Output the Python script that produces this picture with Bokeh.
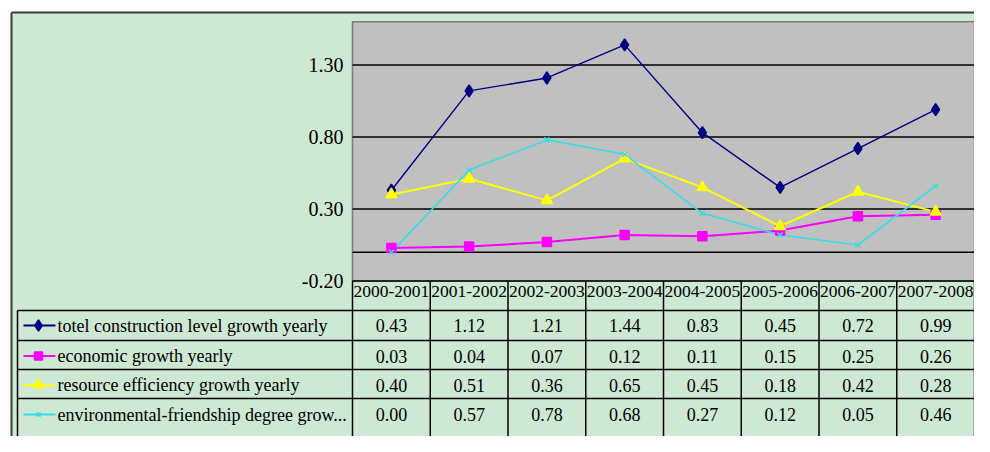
from bokeh.plotting import figure
from bokeh.models import ColumnDataSource, LinearAxis, FixedTicker, PrintfTickFormatter, Range1d
from bokeh.core.properties import value
from bokeh.embed import file_html
from bokeh.resources import INLINE

# ---------------- data ----------------
periods = ["2000-2001", "2001-2002", "2002-2003", "2003-2004",
           "2004-2005", "2005-2006", "2006-2007", "2007-2008"]
series_labels = ["totel construction level growth yearly",
                 "economic growth yearly",
                 "resource efficiency growth yearly",
                 "environmental-friendship degree grow..."]
total_construction = [0.43, 1.12, 1.21, 1.44, 0.83, 0.45, 0.72, 0.99]
economic_growth = [0.03, 0.04, 0.07, 0.12, 0.11, 0.15, 0.25, 0.26]
resource_efficiency = [0.40, 0.51, 0.36, 0.65, 0.45, 0.18, 0.42, 0.28]
environmental_friendship = [0.00, 0.57, 0.78, 0.68, 0.27, 0.12, 0.05, 0.46]
y_tick_values = [-0.2, 0.3, 0.8, 1.3]
y_axis_min, y_axis_max = -0.2, 1.6

series_values = [total_construction, economic_growth, resource_efficiency, environmental_friendship]

# ---------------- styles ----------------
colors = ["#000080", "#FF00FF", "#FFFF00", "#38DCE4"]
markers = ["diamond", "square", "triangle", "x"]
marker_sizes = [12, 9, 11, 7]
line_widths = [1.4, 2.0, 2.0, 1.6]
GREEN = "#CDE8D3"
GRAY = "#C0C0C0"
FONT = "Liberation Serif"

# ---------------- geometry (canvas pixels) ----------------
W, H = 974, 436
PLOT_LEFT = 352.0     # canvas x of plot area's left edge
CAT_PX = (W - PLOT_LEFT) / 8   # width of one category column
UNIT_PX = 144.0       # pixels per 1.0 of value
PLOT_BOTTOM = 280.5   # canvas y of y_axis_min

def dx(px):
    return -0.5 + (px - PLOT_LEFT) / CAT_PX

def dy(py):
    return y_axis_min + (PLOT_BOTTOM - py) / UNIT_PX

n = len(periods)
idx = list(range(n))
x_lo, x_hi = -0.5, n - 0.5

row_tops_px = [310, 340, 369, 398]
row_text_px = [325, 355.5, 384.5, 414]
LEG_LEFT_PX, LEG_L0, LEG_L1, LEG_M, LEG_TXT = 17, 23, 55, 38, 57
FRAME_X, FRAME_Y = 11, 12

p = figure(width=W, height=H, x_range=Range1d(dx(0), dx(W)), y_range=Range1d(dy(H), dy(0)),
           output_backend="svg", toolbar_location=None, min_border=0,
           x_axis_location=None, y_axis_location=None,
           background_fill_color="white", border_fill_color="white", outline_line_color=None)
p.grid.visible = False

# background panel and frame
p.quad(left=dx(FRAME_X), right=dx(W), bottom=dy(H), top=dy(FRAME_Y), fill_color=GREEN, line_color=None)
p.segment(x0=[dx(FRAME_X), dx(FRAME_X)], x1=[dx(FRAME_X), dx(W)],
          y0=[dy(FRAME_Y), dy(FRAME_Y)], y1=[dy(H), dy(FRAME_Y)],
          line_color="#3c3c3c", line_width=2)

# plot area
p.quad(left=x_lo, right=x_hi, bottom=y_axis_min, top=y_axis_max,
       fill_color=GRAY, line_color="#7a7a7a", line_width=1.5)
grid_vals = [v for v in y_tick_values if v > y_axis_min] + [0.0]
p.segment(x0=[x_lo] * len(grid_vals), x1=[x_hi] * len(grid_vals), y0=grid_vals, y1=grid_vals,
          line_color="black", line_width=1.6)

# series
for vals, c, lw in zip(series_values, colors, line_widths):
    p.line(idx, vals, line_color=c, line_width=lw)
for vals, c, m, s in zip(series_values, colors, markers, marker_sizes):
    p.scatter(idx, vals, marker=m, size=s, fill_color=c, line_color=c, line_width=1.5)

# data table lines
tbl_bottom = dy(H)
p.segment(x0=[x_lo], x1=[x_hi], y0=[y_axis_min], y1=[y_axis_min], line_color="black", line_width=1.5)
ht = [dy(v) for v in row_tops_px]
p.segment(x0=[dx(LEG_LEFT_PX)] * len(ht), x1=[x_hi] * len(ht), y0=ht, y1=ht,
          line_color="black", line_width=1.5)
bounds = [i - 0.5 for i in range(n + 1)]
p.segment(x0=bounds, x1=bounds, y0=[y_axis_min] * len(bounds), y1=[tbl_bottom] * len(bounds),
          line_color="black", line_width=1.5)
p.segment(x0=[dx(LEG_LEFT_PX)], x1=[dx(LEG_LEFT_PX)], y0=[ht[0]], y1=[tbl_bottom],
          line_color="black", line_width=1.5)

# legend keys in table
ry = [dy(v) for v in row_text_px]
p.segment(x0=[dx(LEG_L0)] * 4, x1=[dx(LEG_L1)] * 4, y0=ry, y1=ry, line_color=colors, line_width=2)
p.scatter(x=[dx(LEG_M)] * 4, y=ry, marker=markers, size=[s - 1 for s in marker_sizes],
          fill_color=colors, line_color=colors, line_width=1.5)
p.text(x=[dx(LEG_TXT)] * 4, y=ry, text=series_labels, text_font=value(FONT), text_font_size="18px",
       text_align="left", text_baseline="middle", text_color="black")

# table values
for vals, yv in zip(series_values, ry):
    src = ColumnDataSource(dict(x=idx, y=[yv] * n, t=["%.2f" % v for v in vals]))
    p.text(x="x", y="y", text="t", source=src, text_font=value(FONT), text_font_size="18px",
           text_align="center", text_baseline="middle", text_color="black")

# y axis at the plot area's left edge
yaxis = LinearAxis(ticker=FixedTicker(ticks=y_tick_values), formatter=PrintfTickFormatter(format="%.2f"))
yaxis.fixed_location = x_lo
yaxis.axis_line_color = None
yaxis.major_tick_in = 0
yaxis.major_tick_out = 0
yaxis.minor_tick_in = 0
yaxis.minor_tick_out = 0
yaxis.major_label_standoff = 9
yaxis.major_label_text_font = FONT
yaxis.major_label_text_font_size = "20px"
yaxis.major_label_text_color = "black"
p.add_layout(yaxis, "left")

# category axis forming the header row of the data table
xaxis = LinearAxis(ticker=FixedTicker(ticks=idx),
                   major_label_overrides={i: periods[i] for i in idx})
xaxis.fixed_location = y_axis_min
xaxis.axis_line_color = None
xaxis.major_tick_in = 0
xaxis.major_tick_out = 0
xaxis.minor_tick_in = 0
xaxis.minor_tick_out = 0
xaxis.major_label_standoff = 5
xaxis.major_label_text_font = FONT
xaxis.major_label_text_font_size = "17.5px"
xaxis.major_label_text_color = "black"
p.add_layout(xaxis, "below")

open("out.html", "w").write(file_html(p, INLINE))
